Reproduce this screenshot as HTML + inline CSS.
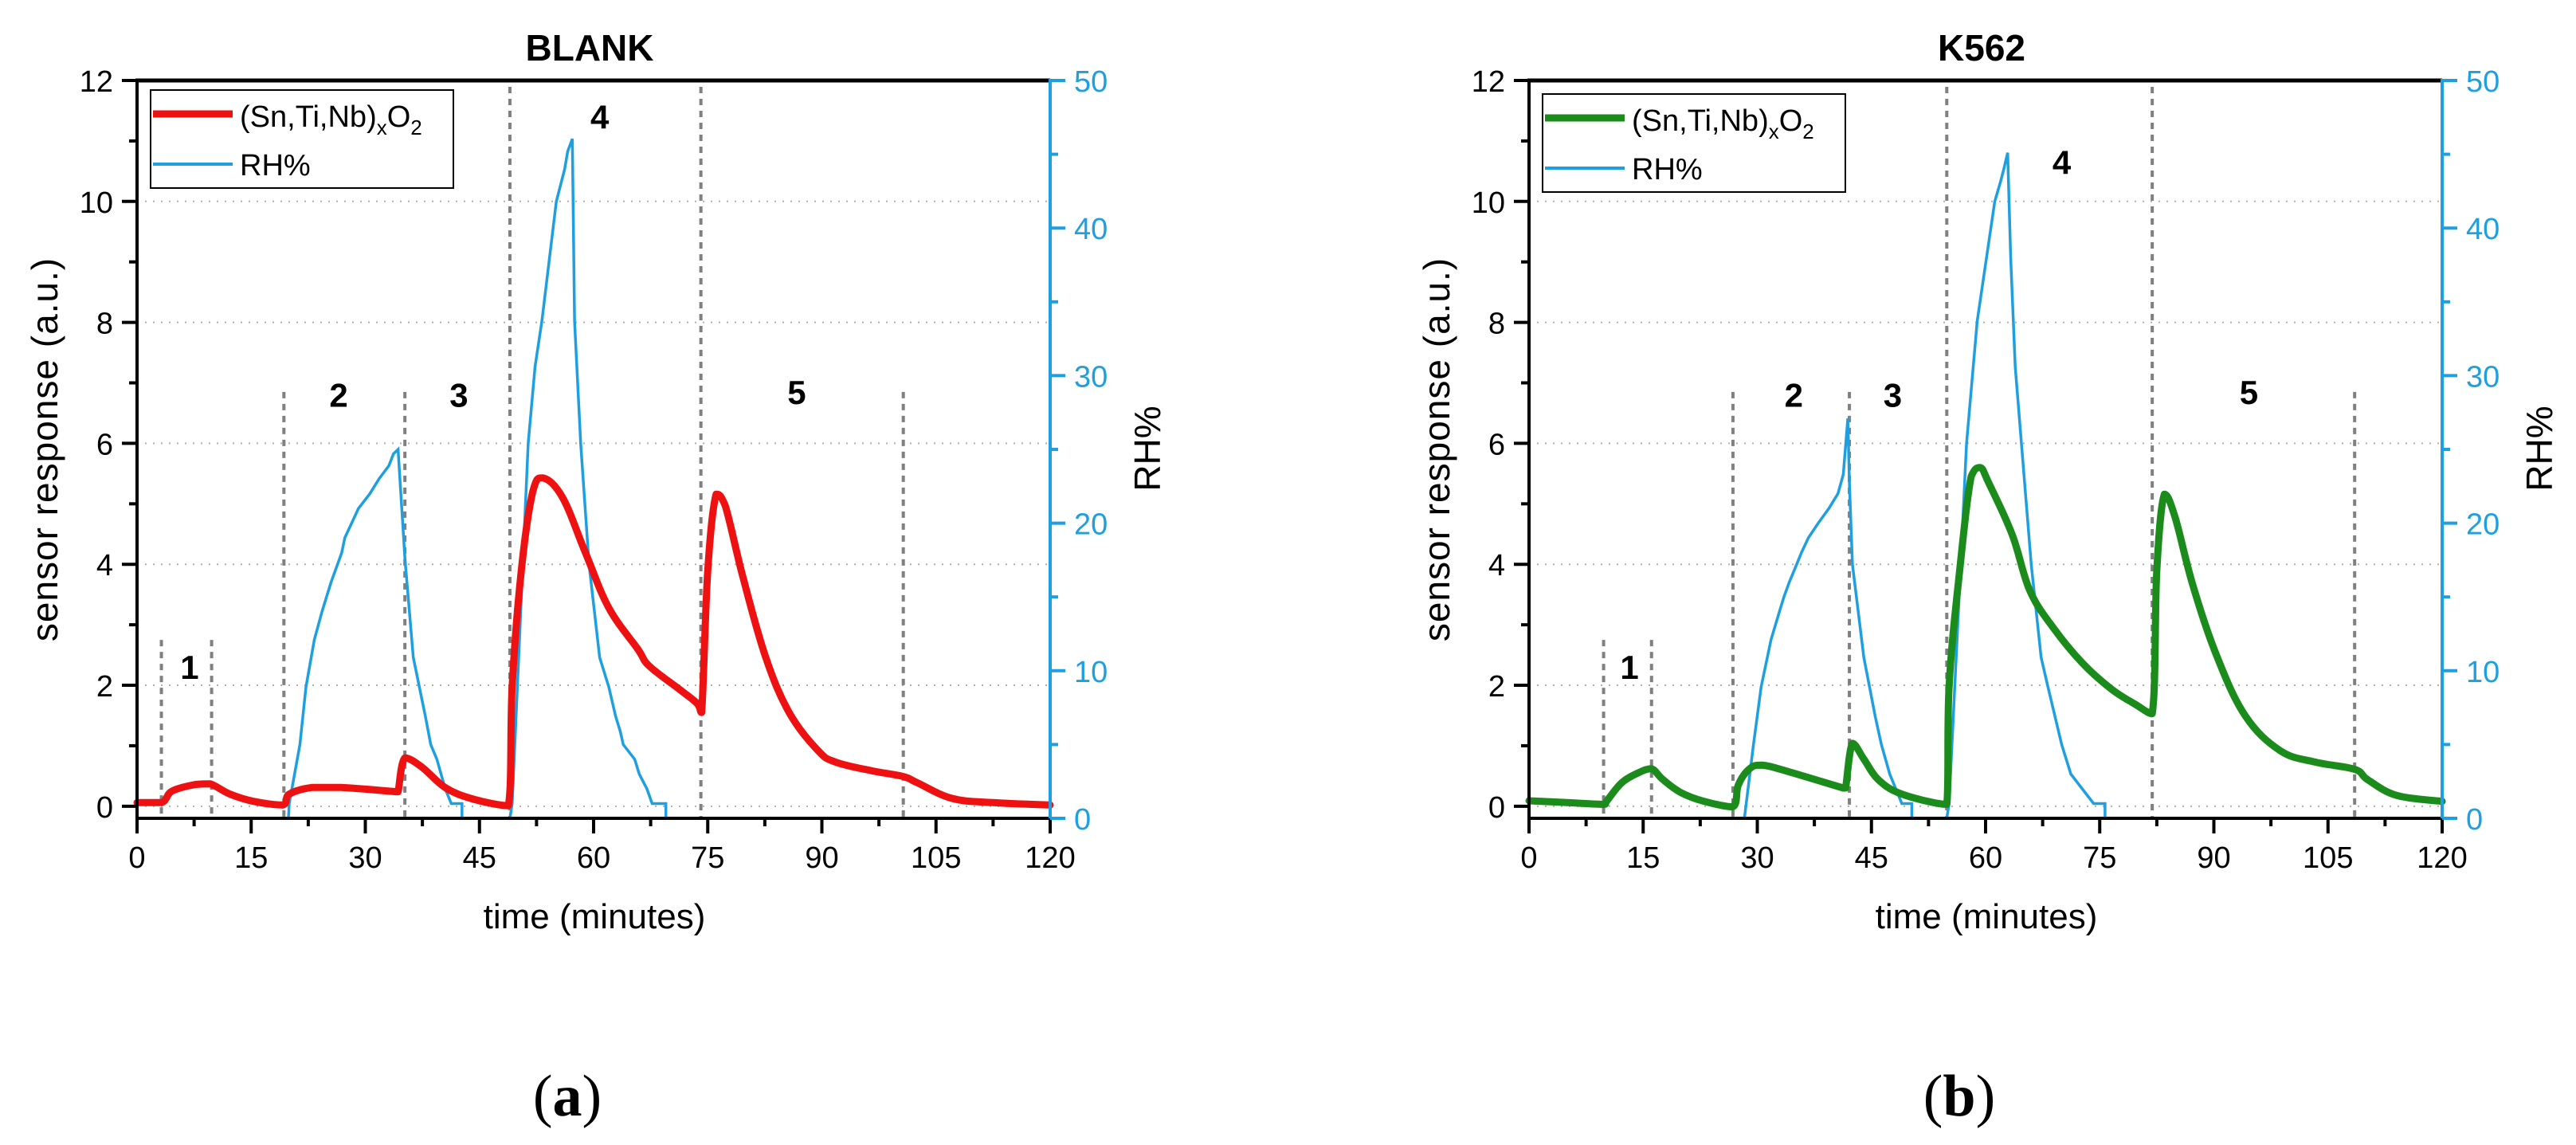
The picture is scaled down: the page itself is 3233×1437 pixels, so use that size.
<!DOCTYPE html>
<html><head><meta charset="utf-8"><title>Sensor response vs RH</title>
<style>
html,body{margin:0;padding:0;background:#fff;}
svg{display:block;font-family:"Liberation Sans",Arial,sans-serif;}
</style></head>
<body>
<svg id="fig" width="3233" height="1437" viewBox="0 0 3233 1437" xmlns="http://www.w3.org/2000/svg"></svg>
<script>
// ---- shared axis data ----
const xTicks = [0, 15, 30, 45, 60, 75, 90, 105, 120];
const yTicks = [0, 2, 4, 6, 8, 10, 12];
const rhTicks = [0, 10, 20, 30, 40, 50];

// ---- BLANK panel data ----
const blankT = [0,3.2,4.6,7.7,9.6,12.2,15.3,19.1,20,23,26.8,34,34.3,35.2,37.5,40.6,44.4,48.8,49.3,50.5,52,53.3,55.9,58.9,62,65.8,67.3,71.2,73.6,74.2,75,76.1,77.3,79.6,82.6,85.7,89.5,91.8,96.4,100.7,102.5,107.1,112.5,120];
const blankV = [0.06,0.06,0.25,0.36,0.37,0.2,0.08,0.02,0.2,0.31,0.31,0.24,0.24,0.8,0.64,0.3,0.11,0.01,1.98,3.9,5.2,5.43,5.11,4.2,3.28,2.6,2.32,1.94,1.7,1.55,3.9,5.16,4.97,3.8,2.47,1.55,0.92,0.73,0.59,0.49,0.39,0.13,0.06,0.02];
const blankRhT = [19.9,20.0,21.4,22.2,23.3,24.3,24.9,25.5,26.2,26.9,27.3,28.2,29.1,30.6,31.8,33.1,33.7,34.3,35.2,36.3,37.9,38.6,39.4,40.5,41.3,42.7,42.7];
const blankRhV = [0,1,5,8.9,12.1,14,15,16,17,18,19,20,21,22,23,23.9,24.7,25.0,17.6,10.9,6.9,5,4,2,1,1,0];
const blankRh4T = [49.0,49.3,51.4,52.3,53.2,55.1,56.2,56.6,57.2,57.5,58.3,59.4,60.8,62,62.9,63.5,63.9,65.4,66,67,67.7,69.5,69.5];
const blankRh4V = [0,1,25.4,30.6,33.7,41.8,44,45.2,46.05,33.7,25.4,17.2,10.9,8.9,6.9,5.9,5,4,3,2,1,1,0];
const blankLineT = [3.2, 9.8, 19.3, 35.2, 49.0, 74.1, 100.7];
const blankLineTop = [2.75, 2.75, 6.85, 6.85, 12, 12, 6.85];
const blankLabelText = ["1","2","3","4","5"];
const blankLabelT = [6.9, 26.5, 42.3, 60.8, 86.7];
const blankLabelV = [2.3, 6.8, 6.8, 11.4, 6.85];

// ---- K562 panel data ----
const kT = [0,5,9.8,10.3,12.2,14.5,16.1,17.6,19.9,23,26.8,27.5,28.9,30.6,34.4,41.3,41.6,42.5,44,45.9,49,54.9,55.2,56.6,58.1,59.3,60.4,63.5,65.8,68.9,72.7,76.5,79.6,81.9,82.5,83.5,84.9,87.2,90.3,94.1,98.7,103.3,108.5,110.2,114,120];
const kV = [0.09,0.06,0.03,0.1,0.39,0.56,0.62,0.44,0.23,0.08,-0.01,0.35,0.61,0.68,0.56,0.3,0.3,1.04,0.78,0.44,0.2,0.03,1.98,3.9,5.45,5.6,5.35,4.49,3.57,2.95,2.37,1.94,1.69,1.53,3.9,5.16,4.78,3.67,2.51,1.5,0.92,0.73,0.61,0.44,0.18,0.08];
const kRhT = [28.3,29.5,30.5,31.8,32.9,33.5,34.2,35,35.8,36.7,38,39.4,40.6,41.3,41.9,42.1,42.5,44,45.5,46.3,47.4,48.2,49,50.3,50.3];
const kRhV = [0,5,8.9,12.1,14,15,16,17,18,19,20,21,22,23.3,27.1,22.7,17.2,10.9,6.9,5,3,2,1,1,0];
const kRh4T = [54.9,55.2,57.5,58.9,61.2,62,62.4,62.9,63.3,63.9,66,67.3,68.2,70,71.2,72.7,74.2,75.7,75.7];
const kRh4V = [0,1,25.4,33.7,41.8,43.2,44,45.1,38,30.6,17.2,10.9,8.9,5,3,2,1,1,0];
const kLineT = [9.8, 16.1, 26.8, 42.1, 54.9, 81.9, 108.5];
const kLineTop = [2.75, 2.75, 6.85, 6.85, 12, 12, 6.85];
const kLabelText = ["1","2","3","4","5"];
const kLabelT = [13.2, 34.8, 47.8, 70.0, 94.6];
const kLabelV = [2.3, 6.8, 6.8, 10.65, 6.85];

const NS = "http://www.w3.org/2000/svg";
const svg = document.getElementById("fig");
function mk(tag, attrs, parent, text) {
  const e = document.createElementNS(NS, tag);
  for (const k in attrs) e.setAttribute(k, attrs[k]);
  if (text !== undefined) e.textContent = text;
  (parent || svg).appendChild(e);
  return e;
}
// smoothing with control points clamped to the segment box (no overshoot)
function smoothPath(P) {
  const cl = (v, a, b) => Math.min(Math.max(v, Math.min(a, b)), Math.max(a, b));
  let d = "M" + P[0][0].toFixed(1) + "," + P[0][1].toFixed(1);
  for (let i = 0; i < P.length - 1; i++) {
    const p0 = P[Math.max(0, i - 1)], p1 = P[i], p2 = P[i + 1], p3 = P[Math.min(P.length - 1, i + 2)];
    const k = 0.18;
    const c1x = cl(p1[0] + (p2[0] - p0[0]) * k, p1[0], p2[0]);
    const c1y = cl(p1[1] + (p2[1] - p0[1]) * k, p1[1], p2[1]);
    const c2x = cl(p2[0] - (p3[0] - p1[0]) * k, p1[0], p2[0]);
    const c2y = cl(p2[1] - (p3[1] - p1[1]) * k, p1[1], p2[1]);
    d += " C" + c1x.toFixed(1) + "," + c1y.toFixed(1) + " " + c2x.toFixed(1) + "," + c2y.toFixed(1) + " " + p2[0].toFixed(1) + "," + p2[1].toFixed(1);
  }
  return d;
}

function drawPanel(P) {
  const L = P.left, R = P.left + 1146, T = 101, B = 1027;
  const xs = t => L + (t / 120) * (R - L);
  const ys = v => B - (v + 0.2) / 12.2 * (B - T);
  const yr = v => B - v / 50 * (B - T);
  const g = mk("g", {});
  
  

  yTicks.forEach(v => {
    if (v === 12) return;
    const gl = mk("line", {x1: L, x2: R, y1: ys(v), y2: ys(v), stroke: "#b0b0b0", "stroke-width": 2, "stroke-dasharray": "2 8"}, g);
    
    
  });
  P.lineT.forEach((t, i) => {
    const pl = mk("line", {x1: xs(t), x2: xs(t), y1: ys(P.lineTop[i]) + (P.lineTop[i] >= 12 ? 8 : 0), y2: B, stroke: "#808080", "stroke-width": 4, "stroke-dasharray": "8 7"}, g);
    
    
  });
  P.labelText.forEach((s, i) => {
    const tl = mk("text", {x: xs(P.labelT[i]), y: ys(P.labelV[i]) + 15, "text-anchor": "middle", "font-size": 42, "font-weight": "bold"}, g, s);
    
    
  });
  [[P.rhT, P.rhV], [P.rh4T, P.rh4V]].forEach(([tt, vv]) => {
    const pts = tt.map((t, i) => xs(t).toFixed(1) + "," + yr(vv[i]).toFixed(1)).join(" ");
    const pl = mk("polyline", {points: pts, fill: "none", stroke: "#1e9fe0", "stroke-width": 3.5, "stroke-linejoin": "miter"}, g);
    
    
  });
  const spts = P.t.map((t, i) => [xs(t), ys(P.v[i])]);
  const sl = mk("path", {d: smoothPath(spts), fill: "none", stroke: P.color, "stroke-width": 9, "stroke-linejoin": "round", "stroke-linecap": "round"}, g);
  
  

  const ax = mk("line", {x1: L, x2: L, y1: T - 2, y2: B + 2, stroke: "#000", "stroke-width": 4}, g);
  
  
  const bx = mk("line", {x1: L - 2, x2: R, y1: B, y2: B, stroke: "#000", "stroke-width": 4}, g);
  
  
  const tx = mk("line", {x1: L - 2, x2: R, y1: T, y2: T, stroke: "#000", "stroke-width": 5}, g);
  
  
  const rx = mk("line", {x1: R, x2: R, y1: T - 2, y2: B + 2, stroke: "#1e9fe0", "stroke-width": 4}, g);
  
  

  xTicks.forEach(t => {
    mk("line", {x1: xs(t), x2: xs(t), y1: B, y2: B + 19, stroke: "#000", "stroke-width": 4}, g);
    const lb = mk("text", {x: xs(t), y: B + 62, "text-anchor": "middle", "font-size": 38}, g, String(t));
    
    
    if (t < 120) mk("line", {x1: xs(t + 7.5), x2: xs(t + 7.5), y1: B, y2: B + 10, stroke: "#000", "stroke-width": 4}, g);
  });
  yTicks.forEach(v => {
    mk("line", {x1: L - 19, x2: L, y1: ys(v), y2: ys(v), stroke: "#000", "stroke-width": 4}, g);
    const lb = mk("text", {x: L - 30, y: ys(v) + 14, "text-anchor": "end", "font-size": 38}, g, String(v));
    
    
    if (v < 12) mk("line", {x1: L - 10, x2: L, y1: ys(v + 1), y2: ys(v + 1), stroke: "#000", "stroke-width": 4}, g);
  });
  rhTicks.forEach(v => {
    mk("line", {x1: R, x2: R + 19, y1: yr(v), y2: yr(v), stroke: "#1e9fe0", "stroke-width": 4}, g);
    const lb = mk("text", {x: R + 30, y: yr(v) + 14, "font-size": 38, fill: "#1e9fe0"}, g, String(v));
    
    
    if (v < 50) mk("line", {x1: R, x2: R + 10, y1: yr(v + 5), y2: yr(v + 5), stroke: "#1e9fe0", "stroke-width": 4}, g);
  });

  const tt = mk("text", {x: L + 568, y: 76, "text-anchor": "middle", "font-size": 46, "font-weight": "bold"}, g, P.title);
  
  
  const xt = mk("text", {x: L + 574, y: 1165, "text-anchor": "middle", "font-size": 44}, g, "time (minutes)");
  
  
  const yt = mk("text", {x: 0, y: 0, "text-anchor": "middle", "font-size": 46, "letter-spacing": 1, transform: `translate(${L - 100},564) rotate(-90)`}, g, "sensor response (a.u.)");
  
  
  const rt = mk("text", {x: 0, y: 0, "text-anchor": "middle", "font-size": 46, transform: `translate(${R + 138},563) rotate(-90)`}, g, "RH%");
  
  
  const pt = mk("text", {x: L + 540, y: 1400, "text-anchor": "middle", "font-size": 74, "font-family": "Liberation Serif, serif"}, g, "");
  
  
  mk("tspan", {}, pt, "(");
  mk("tspan", {"font-weight": "bold"}, pt, P.panel);
  mk("tspan", {}, pt, ")");

  const lg = mk("g", {}, g);
  
  
  const ly = P.legendY;
  mk("rect", {x: L + 17, y: ly, width: 380, height: 123, fill: "#fff", stroke: "#000", "stroke-width": 2}, lg);
  mk("line", {x1: L + 20, x2: L + 120, y1: ly + 30, y2: ly + 30, stroke: P.color, "stroke-width": 9}, lg);
  mk("line", {x1: L + 20, x2: L + 120, y1: ly + 93, y2: ly + 93, stroke: "#1e9fe0", "stroke-width": 4}, lg);
  const l1 = mk("text", {x: L + 129, y: ly + 46, "font-size": 38}, lg, "(Sn,Ti,Nb)");
  
  
  mk("tspan", {"font-size": 26, dy: 10}, l1, "x");
  mk("tspan", {dy: -10}, l1, "O");
  mk("tspan", {"font-size": 26, dy: 10}, l1, "2");
  const l2 = mk("text", {x: L + 129, y: ly + 107, "font-size": 38}, lg, "RH%");
  
  
}

drawPanel({id: "blank", left: 172, title: "BLANK", panel: "a", color: "#ee1111", legendY: 113,
  t: blankT, v: blankV, rhT: blankRhT, rhV: blankRhV, rh4T: blankRh4T, rh4V: blankRh4V,
  lineT: blankLineT, lineTop: blankLineTop, labelText: blankLabelText, labelT: blankLabelT, labelV: blankLabelV});
drawPanel({id: "k562", left: 1919, title: "K562", panel: "b", color: "#1b8c1b", legendY: 118,
  t: kT, v: kV, rhT: kRhT, rhV: kRhV, rh4T: kRh4T, rh4V: kRh4V,
  lineT: kLineT, lineTop: kLineTop, labelText: kLabelText, labelT: kLabelT, labelV: kLabelV});
</script>
</body></html>
